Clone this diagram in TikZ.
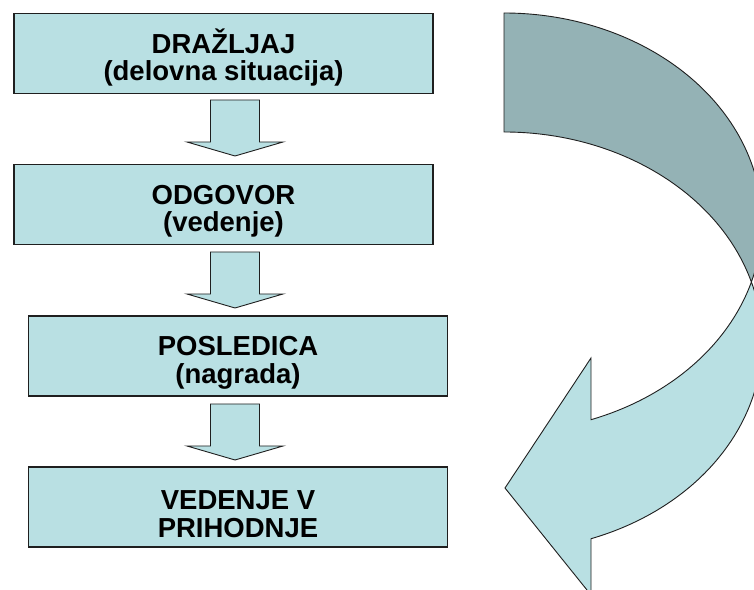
\documentclass[tikz,border=0pt]{standalone}
\usepackage{fontspec}
\setmainfont{Liberation Sans}
\usepackage{tikz}
\definecolor{boxfill}{RGB}{185,224,227}
\definecolor{backfill}{RGB}{148,178,181}
\definecolor{edgecol}{gray}{0.12}
\newcommand{\topgap}{\rule{0pt}{33pt}}
\tikzset{
  stagebox/.style={draw=edgecol,line width=1.6pt,fill=boxfill,rectangle,minimum width=419pt,minimum height=80pt,
    align=center,inner sep=0pt,font=\fontsize{27.5}{27.5}\selectfont\bfseries},
  blockarr/.style={draw=edgecol,line width=0.9pt,fill=boxfill,line join=miter},
  bendarr/.style={draw=edgecol,line width=0.9pt,line join=miter},
}

\begin{document}
\begin{tikzpicture}[x=1pt,y=1pt]
  \clip (0,0) rectangle (754,589);
  \fill[white] (0,0) rectangle (754,589);
  % the four stages
  \node[stagebox] (drazljaj) at (223.5,535.5) {\topgap DRAŽLJAJ\\(delovna situacija)};
  \node[stagebox] (odgovor) at (223.5,384.5) {\topgap ODGOVOR\\(vedenje)};
  \node[stagebox] (posledica) at (238,233) {\topgap POSLEDICA\\(nagrada)};
  \node[stagebox] (prihodnje) at (238,82) {\topgap VEDENJE V\\PRIHODNJE};
  % block arrows between stages
  \foreach \t in {489,337,185}{
    \draw[blockarr] (210.5,\t) -- (259.5,\t) -- (259.5,\t-42) -- (283,\t-42) -- (235,\t-56)
      -- (187,\t-42) -- (210.5,\t-42) -- cycle;
  }
  % curved arrow: back part
  \draw[bendarr,fill=backfill] (504,576) arc[start angle=90,end angle=-16.5,x radius=258,y radius=209.5]
    arc[start angle=16.5,end angle=90,x radius=258,y radius=209.5] -- cycle;
  % curved arrow: front part with head
  \draw[bendarr,fill=boxfill] (751.4,307) arc[start angle=16.5,end angle=-70.3,x radius=258,y radius=209.5]
    -- (591,-6) -- (505,101) -- (591,231) -- (591,169.3)
    arc[start angle=-70.3,end angle=-16.5,x radius=258,y radius=209.5] -- cycle;
\end{tikzpicture}
\end{document}
